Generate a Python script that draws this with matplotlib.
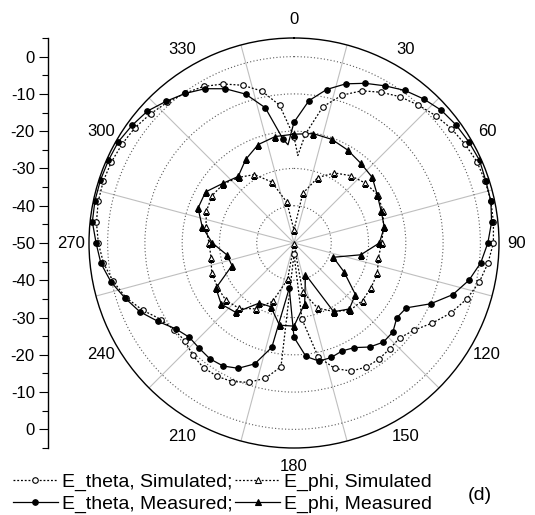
import numpy as np
import matplotlib
matplotlib.use('Agg')
import matplotlib.pyplot as plt
from matplotlib.lines import Line2D

plt.rcParams['font.family'] = ['Liberation Sans', 'DejaVu Sans']

# E_theta curves, one marker every 6 degrees
ang_theta = np.arange(0, 360, 6)
theta_sim = [-21.5, -20.6, -12.6, -8.3, -5.3, -3.3, -1.5, -0.2, 1.1, 2.2,
             3.0, 3.7, 3.9, 4.0, 3.8, 3.5, 2.3, 0.8, -1.3, -3.9,
             -7.1, -10.2, -11.9, -11.7, -11.4, -11.5, -12.4, -14.6, -18.8, -29.4,
             -47.0, -16.6, -12.9, -10.7, -9.3, -8.7, -8.7, -9.4, -10.7, -10.3,
             -8.9, -5.6, -2.6, -0.4, 1.4, 2.5, 3.3, 3.7, 3.8, 3.6,
             3.2, 2.7, 1.8, 0.8, -0.3, -1.5, -3.3, -5.5, -8.3, -12.8]
theta_meas = [-17.6, -11.6, -7.9, -5.1, -3.1, -1.3, 0.6, 2.0, 3.2, 3.8,
              4.2, 4.5, 4.1, 4.0, 3.3, 2.0, 0.4, -2.0, -5.2, -9.9,
              -15.2, -15.9, -14.3, -14.2, -15.5, -17.6, -18.3, -17.7, -17.6, -19.4,
              -24.7, -37.8, -21.4, -15.9, -13.2, -11.9, -11.6, -12.0, -12.2, -10.8,
              -7.9, -4.7, -2.3, 0.2, 2.1, 3.1, 4.4, 4.6, 4.6, 4.5,
              4.4, 3.7, 2.9, 1.2, -0.4, -2.2, -4.7, -8.0, -12.9, -22.0]
# null points on the lines that carry no marker
theta_sim_null = ([2.5], [-26.5])
theta_meas_null = ([356.5], [-23.6])

# E_phi curves, one marker every 10 degrees
ang_phi = np.arange(0, 360, 10)
phi_sim = [-46.5, -36.5, -31.3, -28.3, -26.4, -25.0, -24.1, -24.6, -25.6, -26.5,
           -27.0, -26.2, -26.1, -26.0, -26.5, -28.8, -31.4, -36.7, -49.7, -40.1,
           -33.4, -29.6, -27.1, -26.1, -26.3, -26.5, -27.4, -27.2, -26.0, -25.0,
           -24.6, -25.3, -27.0, -28.8, -32.6, -38.9]
phi_meas = [-20.8, -20.2, -20.4, -21.2, -22.1, -22.6, -24.2, -25.1, -25.4, -27.1,
            -31.8, -38.8, -34.5, -28.5, -26.9, -28.7, -41.0, -33.5, -27.7, -27.6,
            -31.8, -31.4, -25.7, -24.5, -25.8, -32.3, -31.7, -28.1, -25.0, -22.6,
            -22.6, -25.1, -26.7, -24.1, -21.9, -21.0]

labels = ['E_theta, Simulated;', 'E_theta, Measured;',
          'E_phi, Simulated', 'E_phi, Measured']


def closed_curve(ang, val, extra=None):
    a = list(ang)
    v = list(val)
    if extra:
        a += extra[0]
        v += extra[1]
    order = np.argsort(a)
    a = np.array(a, dtype=float)[order]
    v = np.array(v, dtype=float)[order]
    a = np.append(a, a[0] + 360)
    v = np.append(v, v[0])
    return np.radians(a), v


fig = plt.figure(figsize=(5.35, 5.15), dpi=100)
ax = fig.add_axes([89/535, 67/515, 410/535, 410/515], projection='polar')
ax.set_theta_zero_location('N')
ax.set_theta_direction(-1)
ax.set_ylim(-50, 5)

dot = (0, (1.5, 1.5))
styles = [
    dict(ls=dot, marker='o', mfc='white', ms=4),
    dict(ls='-', marker='o', mfc='black', ms=4),
    dict(ls=dot, marker='^', mfc='white', ms=4.5),
    dict(ls='-', marker='^', mfc='black', ms=4.5),
]
series = [
    (ang_theta, theta_sim, theta_sim_null),
    (ang_theta, theta_meas, theta_meas_null),
    (ang_phi, phi_sim, None),
    (ang_phi, phi_meas, None),
]

for (ang, val, extra), st in zip(series, styles):
    t, r = closed_curve(ang, val, extra)
    ax.plot(t, r, color='black', lw=0.9, ls=st['ls'], zorder=3)
    ax.plot(np.radians(ang), val, ls='none', marker=st['marker'], ms=st['ms'],
            mfc=st['mfc'], mec='black', mew=0.8, zorder=4)

# radial grid
ax.set_yticks([-40, -30, -20, -10, 0])
ax.set_yticklabels([])
ax.yaxis.grid(True, ls=(0, (1, 2)), color='0.35', lw=0.8)

# angular grid lines between the labelled directions
ax.set_xticks(np.radians(np.arange(15, 360, 30)))
ax.set_xticklabels([])
ax.xaxis.grid(True, which='major', ls='-', color='0.75', lw=0.8)
ax.tick_params(axis='x', which='major', length=0)

lab_ang = np.arange(0, 360, 30)
ax.set_xticks(np.radians(lab_ang), [str(a) for a in lab_ang], minor=True)
ax.tick_params(axis='x', which='minor', direction='in', length=6, width=0.8,
               labelsize=12, pad=6)
ax.xaxis.grid(False, which='minor')
ax.spines['polar'].set_linewidth(1.0)

# mirrored dB scale on the left
lax = fig.add_axes([48/535, 67/515, 0.0001, 410/515])
lax.set_ylim(-55, 55)
lax.patch.set_visible(False)
for s in ['right', 'top', 'bottom']:
    lax.spines[s].set_visible(False)
lax.spines['left'].set_linewidth(1.0)
lax.set_xticks([])
ticks = np.arange(-50, 51, 10)
lax.set_yticks(ticks)
lax.set_yticklabels([str(abs(v) - 50) for v in ticks])
lax.set_yticks(np.arange(-55, 56, 5), minor=True)
lax.tick_params(axis='y', which='major', length=6.5, width=0.8, labelsize=12, pad=3)
lax.tick_params(axis='y', which='minor', length=4, width=0.8)

handles = []
for st in styles:
    handles.append(Line2D([], [], color='black', lw=0.9, ls=st['ls'],
                          marker=st['marker'], ms=st['ms'], mfc=st['mfc'],
                          mec='black', mew=0.8))
fig.legend(handles, labels, ncol=2, loc='upper left',
           bbox_to_anchor=(13/535, 0.081), frameon=False,
           fontsize=14, handlelength=2.3, handletextpad=0.2,
           columnspacing=0.15, labelspacing=0.2, borderpad=0, borderaxespad=0)

fig.text(480/535, 1 - 496/515, '(d)', fontsize=14, ha='center', va='center')

fig.savefig('out.png', dpi=100)
